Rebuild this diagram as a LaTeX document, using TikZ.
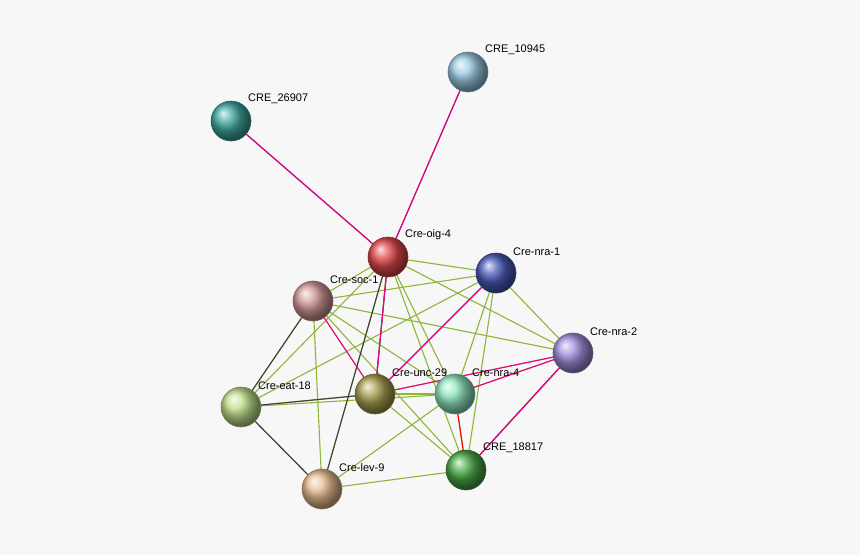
\documentclass[tikz,border=0pt]{standalone}
\usepackage{fontspec}
\setmainfont{Liberation Sans}
\begin{document}
\begin{tikzpicture}[x=1pt,y=-1pt,
  ball/.style={circle,minimum size=40pt,inner sep=0pt,draw=#1!60!black,line width=0.6pt,ball color=#1,shading=ball},
  lbl/.style={font=\fontsize{11}{13}\selectfont,anchor=south west,inner sep=1pt},
  tm/.style={yellow!60!green!80!black,line width=1.1pt},
  ex/.style={magenta,line width=1.1pt},
  co/.style={black!75,line width=1.1pt},
  rd/.style={red,line width=1.1pt}]
\fill[black!3] (0,0) rectangle (860,555);
\useasboundingbox (0,0) rectangle (860,555);
\definecolor{cA}{HTML}{9CCBE4}\definecolor{cB}{HTML}{3FA8A0}\definecolor{cC}{HTML}{E0484A}
\definecolor{cD}{HTML}{4A5AB8}\definecolor{cE}{HTML}{D49A9A}\definecolor{cF}{HTML}{A490E0}
\definecolor{cG}{HTML}{C2E08C}\definecolor{cH}{HTML}{A8A050}\definecolor{cI}{HTML}{90E8C0}
\definecolor{cJ}{HTML}{4AA848}\definecolor{cK}{HTML}{E8BE90}
\coordinate (A) at (468,72);\coordinate (B) at (231,121);\coordinate (C) at (388,257);
\coordinate (D) at (496,273);\coordinate (E) at (313,301);\coordinate (F) at (573,353);
\coordinate (G) at (241,407);\coordinate (H) at (375,394);\coordinate (I) at (455,394);
\coordinate (J) at (466,470);\coordinate (K) at (322,489);
% text mining edges
\foreach \a/\b in {C/D,C/F,C/E,C/I,C/G,C/J,D/E,D/I,D/J,D/F,D/G,E/F,E/G,E/K,E/I,E/J,G/I,G/K,H/J,I/K,K/J,H/I,C/H,D/H,E/H,F/H,F/I,F/J,G/H,I/J,C/K}
  \draw[tm] (\a) -- (\b);
\foreach \a/\b in {C/A,C/B,C/H,C/K,E/G,G/H,G/K,F/J}
  \draw[co,xshift=-1.5pt,yshift=-1pt] (\a) -- (\b);
\foreach \a/\b in {C/A,C/B,C/H,D/H,E/H,F/H,F/I,F/J}
  \draw[ex,xshift=1.5pt,yshift=1pt] (\a) -- (\b);
\draw[rd,xshift=-1.5pt] (I) -- (J);
\node[ball=cA] (nA) at (A) {};\node[lbl] at (484,56) {CRE\_10945};
\node[ball=cB] (nB) at (B) {};\node[lbl] at (247,105) {CRE\_26907};
\node[ball=cC] (nC) at (C) {};\node[lbl] at (404,241) {Cre-oig-4};
\node[ball=cD] (nD) at (D) {};\node[lbl] at (512,257) {Cre-nra-1};
\node[ball=cE] (nE) at (E) {};\node[lbl] at (329,285) {Cre-soc-1};
\node[ball=cF] (nF) at (F) {};\node[lbl] at (589,337) {Cre-nra-2};
\node[ball=cG] (nG) at (G) {};\node[lbl] at (257,391) {Cre-eat-18};
\node[ball=cH] (nH) at (H) {};\node[lbl] at (391,378) {Cre-unc-29};
\node[ball=cI] (nI) at (I) {};\node[lbl] at (471,378) {Cre-nra-4};
\node[ball=cJ] (nJ) at (J) {};\node[lbl] at (482,454) {CRE\_18817};
\node[ball=cK] (nK) at (K) {};\node[lbl] at (338,473) {Cre-lev-9};
\end{tikzpicture}
\end{document}
